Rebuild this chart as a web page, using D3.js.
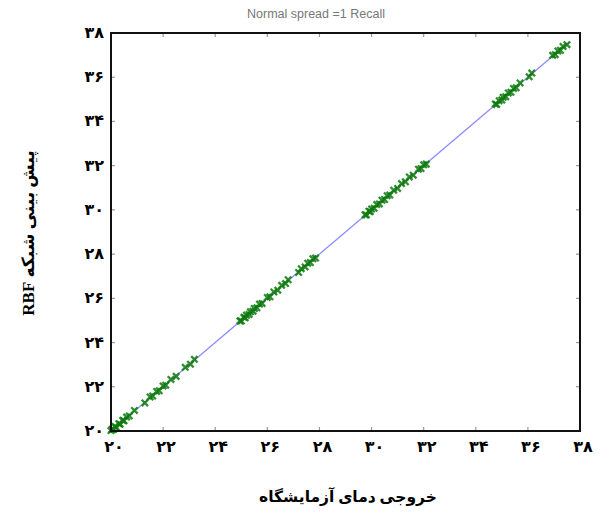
<!DOCTYPE html>
<html>
<head>
<meta charset="utf-8">
<script src="https://cdn.jsdelivr.net/npm/d3@7"></script>
<style>
  body { margin: 0; background: #fff; }
  svg { display: block; }
</style>
</head>
<body>
<svg width="601" height="512"></svg>
<script>
// measured (lab) temperature vs RBF network prediction
var actual = [
    20.0, 20.05, 20.1, 20.15, 20.2, 20.3, 20.35, 20.45, 20.5, 20.6, 20.7,
    20.9, 21.3, 21.5, 21.6, 21.75, 21.85, 22.0, 22.1, 22.3, 22.5, 22.85, 23.05, 23.2,
    24.95, 25.0, 25.1, 25.15, 25.2, 25.3, 25.35, 25.45, 25.5, 25.6, 25.7, 25.8,
    26.0, 26.1, 26.25, 26.4, 26.55, 26.7, 26.8, 27.2, 27.3, 27.45, 27.55, 27.65, 27.75, 27.85,
    29.75, 29.8, 29.9, 29.95, 30.0, 30.1, 30.2, 30.3, 30.4, 30.5, 30.6, 30.7, 30.85,
    31.0, 31.15, 31.3, 31.45, 31.6, 31.8, 31.9, 32.0, 32.1,
    34.75, 34.8, 34.9, 35.0, 35.05, 35.15, 35.25, 35.35, 35.45, 35.55, 35.7,
    36.05, 36.15, 36.95, 37.05, 37.15, 37.25, 37.35, 37.5
];
var predicted = [
    20.02, 20.08, 20.07, 20.2, 20.17, 20.33, 20.31, 20.48, 20.46, 20.63, 20.68,
    20.93, 21.27, 21.54, 21.58, 21.79, 21.82, 22.04, 22.07, 22.33, 22.47, 22.88, 23.02, 23.24,
    24.98, 24.97, 25.14, 25.12, 25.24, 25.27, 25.39, 25.42, 25.54, 25.57, 25.74, 25.77,
    26.04, 26.07, 26.29, 26.37, 26.59, 26.67, 26.84, 27.17, 27.34, 27.42, 27.59, 27.62, 27.79, 27.82,
    29.78, 29.77, 29.94, 29.92, 30.04, 30.07, 30.24, 30.27, 30.44, 30.47, 30.64, 30.67, 30.89,
    30.97, 31.19, 31.27, 31.49, 31.57, 31.84, 31.87, 32.04, 32.07,
    34.79, 34.77, 34.94, 34.97, 35.09, 35.12, 35.29, 35.32, 35.49, 35.52, 35.74,
    36.02, 36.19, 36.99, 37.02, 37.19, 37.22, 37.39, 37.47
];
var tickValues = [20, 22, 24, 26, 28, 30, 32, 34, 36, 38];
var tickNames = ["۲۰", "۲۲", "۲۴", "۲۶", "۲۸", "۳۰", "۳۲", "۳۴", "۳۶", "۳۸"];
var fitLine = [20, 37.6];

var svg = d3.select("svg");
var plotLeft = 111, plotRight = 580, plotTop = 33, plotBottom = 431;

var x = d3.scaleLinear().domain([20, 38]).range([plotLeft, plotRight]);
var y = d3.scaleLinear().domain([20, 38]).range([plotBottom, plotTop]);

// title
svg.append("text")
    .attr("x", 316).attr("y", 18)
    .attr("text-anchor", "middle")
    .style("font-family", "Liberation Sans, Arial, sans-serif")
    .style("font-size", "12.5px")
    .style("fill", "#777")
    .text("Normal spread =1 Recall");

// y = x line
svg.append("path")
    .datum(fitLine)
    .attr("d", d3.line().x(function (d) { return x(d); }).y(function (d) { return y(d); }))
    .style("fill", "none")
    .style("stroke", "#8c8cff")
    .style("stroke-width", 1.3);

// markers
var pts = actual.map(function (d, i) { return [d, predicted[i]]; });
var s = 3.2;
svg.append("g").selectAll("path")
    .data(pts)
    .enter()
    .append("path")
    .attr("d", function (d) {
        var cx = x(d[0]), cy = y(d[1]);
        return "M" + (cx - s) + "," + (cy - s) + "L" + (cx + s) + "," + (cy + s) +
               "M" + (cx - s) + "," + (cy + s) + "L" + (cx + s) + "," + (cy - s);
    })
    .style("stroke", "#0c7a0c")
    .style("stroke-width", 2.3)
    .style("opacity", 0.85);

// inward ticks on all four sides
var tickLen = 4;
var gt = svg.append("g").style("stroke", "#999").style("stroke-width", 1.2);
tickValues.slice(1, -1).forEach(function (v) {
    gt.append("line").attr("x1", x(v)).attr("x2", x(v)).attr("y1", plotBottom).attr("y2", plotBottom - tickLen);
    gt.append("line").attr("x1", x(v)).attr("x2", x(v)).attr("y1", plotTop).attr("y2", plotTop + tickLen);
    gt.append("line").attr("y1", y(v)).attr("y2", y(v)).attr("x1", plotLeft).attr("x2", plotLeft + tickLen);
    gt.append("line").attr("y1", y(v)).attr("y2", y(v)).attr("x1", plotRight).attr("x2", plotRight - tickLen);
});

// frame
svg.append("rect")
    .attr("x", plotLeft).attr("y", plotTop)
    .attr("width", plotRight - plotLeft).attr("height", plotBottom - plotTop)
    .style("fill", "none")
    .style("stroke", "#111")
    .style("stroke-width", 2);

var labelFont = "'Liberation Serif', 'Times New Roman', 'DejaVu Sans', serif";

// tick labels
svg.append("g").selectAll("text")
    .data(tickValues)
    .enter()
    .append("text")
    .attr("x", function (d) { return x(d) + 3; })
    .attr("y", 452)
    .attr("text-anchor", "middle")
    .style("font-family", labelFont)
    .style("font-weight", "bold")
    .style("font-size", "16px")
    .text(function (d, i) { return tickNames[i]; });

svg.append("g").selectAll("text")
    .data(tickValues)
    .enter()
    .append("text")
    .attr("x", 104)
    .attr("y", function (d) { return y(d) + 5; })
    .attr("text-anchor", "end")
    .style("font-family", labelFont)
    .style("font-weight", "bold")
    .style("font-size", "16px")
    .text(function (d, i) { return tickNames[i]; });

// axis titles
svg.append("text")
    .attr("x", 348).attr("y", 502)
    .attr("text-anchor", "middle")
    .attr("direction", "rtl")
    .style("font-family", labelFont)
    .style("font-weight", "bold")
    .style("font-size", "15.5px")
    .text("خروجی دمای آزمایشگاه");

svg.append("text")
    .attr("transform", "translate(34,233) rotate(-90)")
    .attr("text-anchor", "middle")
    .attr("direction", "rtl")
    .style("font-family", labelFont)
    .style("font-weight", "bold")
    .style("font-size", "17px")
    .text("پیش بینی شبکه RBF");
</script>
</body>
</html>
